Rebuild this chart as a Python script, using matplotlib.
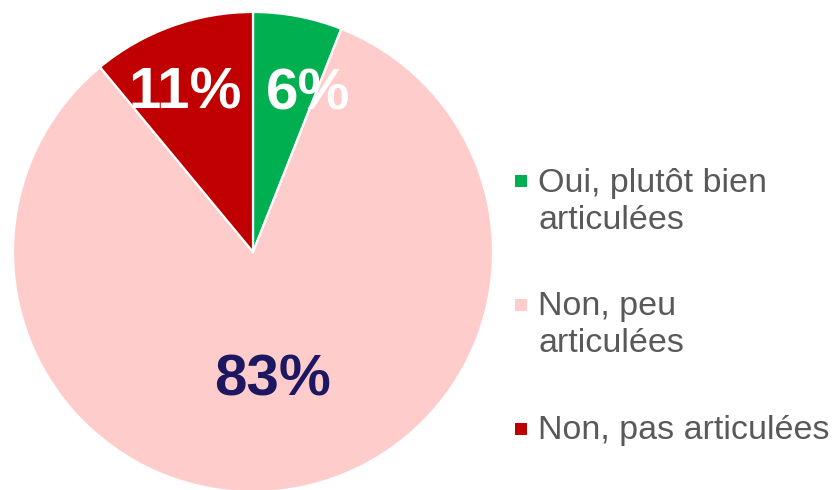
import matplotlib.pyplot as plt
from matplotlib.patches import Rectangle

plt.rcParams["font.family"] = ["Liberation Sans", "DejaVu Sans"]

LABELS = [["Oui, plutôt bien", "articulées"], ["Non, peu", "articulées"], ["Non, pas articulées"]]
VALUES = [6, 83, 11]
COLORS = ["#00B050", "#FFCCCC", "#C00000"]
PCT_COLORS = ["white", "#1C1760", "white"]

W, H = 838, 490
fig = plt.figure(figsize=(W / 100, H / 100), dpi=100)

# pie axes: centre (253, 252) px from top, radius 240 px
cx, cy, r = 253, H - 252, 240
ax = fig.add_axes([(cx - r) / W, (cy - r) / H, 2 * r / W, 2 * r / H])
wedges, texts, autotexts = ax.pie(
    VALUES, colors=COLORS, startangle=90, counterclock=False,
    autopct=lambda p: f"{p:.0f}%", pctdistance=0.72,
    wedgeprops=dict(edgecolor="white", linewidth=1.6),
    textprops=dict(fontsize=42, fontweight="bold"))
ax.set_xlim(-1, 1)
ax.set_ylim(-1, 1)
ax.set_aspect("equal")
ax.axis("off")

for t, c in zip(autotexts, PCT_COLORS):
    t.set_color(c)
# nudge labels to where the original puts them
autotexts[0].set_position((0.23, 0.655))
autotexts[1].set_position((0.08, -0.535))
autotexts[2].set_position((-0.285, 0.66))

# legend drawn by hand so the marker sits on the first text line
marker_y = [181, 305, 429]
first_base = [192, 315, 439]
line_step = 37
for lab, col, my, ty in zip(LABELS, COLORS, marker_y, first_base):
    fig.add_artist(Rectangle(((521 - 6) / W, (H - my - 6) / H), 12 / W, 12 / H,
                             transform=fig.transFigure, facecolor=col,
                             edgecolor="none"))
    for k, line in enumerate(lab):
        fig.text(538 / W, (H - ty - k * line_step) / H, line, fontsize=24.5,
                 color="#595959", ha="left", va="baseline")

fig.savefig("out.png", dpi=100)
